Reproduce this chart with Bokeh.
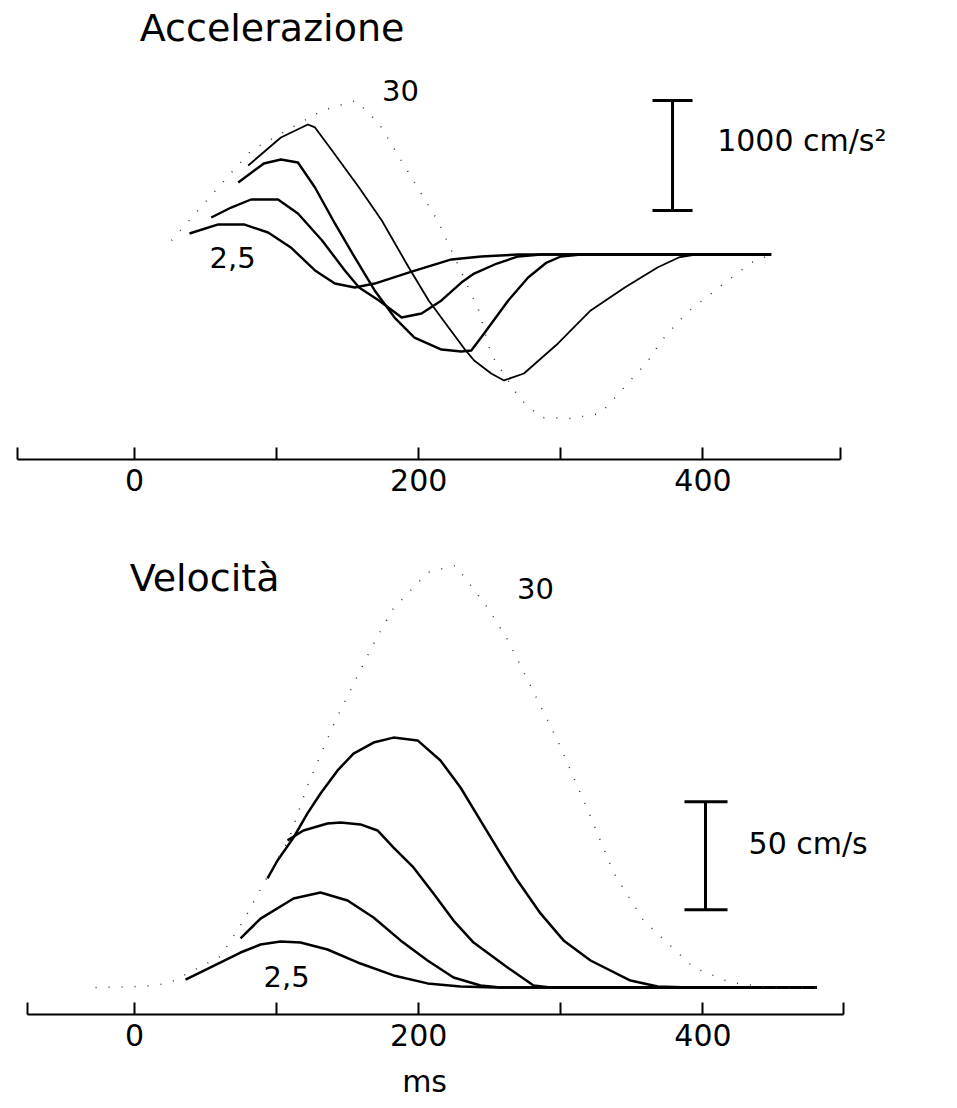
from bokeh.plotting import figure
from bokeh.models import Range1d, LinearAxis, FixedTicker
from bokeh.core.properties import value
from bokeh.embed import file_html
from bokeh.resources import INLINE

# ---------------- data ----------------
# Acceleration (cm/s^2) versus time (ms), one series per movement amplitude
acc_t_25 = [38.7, 59, 77, 94, 110, 127, 141, 155, 169, 195, 223, 244, 270, 448]
acc_25 = [191, 273, 273, 200, 64, -145, -264, -300, -264, -155, -45, -18, 0, 0]

acc_t_5 = [54, 68, 82, 101, 115, 132, 148, 158, 172, 188, 202, 216, 230, 239, 255, 270, 286, 448]
acc_5 = [336, 427, 500, 500, 373, 127, -145, -300, -418, -573, -536, -418, -255, -173, -82, -18, 0, 0]

acc_t_10 = [73, 91, 103, 115, 127, 141, 155, 169, 183, 197, 216, 230, 237, 246, 263, 277, 290, 300, 314, 448]
acc_10 = [655, 827, 864, 836, 609, 282, -27, -327, -573, -755, -864, -882, -873, -718, -418, -209, -73, -18, 0, 0]

acc_t_20 = [80, 103, 122, 127, 139, 158, 174, 193, 207, 221, 232, 239, 251, 260, 274, 298, 321, 345, 368, 383, 395, 448]
acc_20 = [809, 1064, 1182, 1155, 945, 609, 309, -118, -418, -664, -855, -964, -1082, -1145, -1082, -809, -509, -300, -118, -27, 0, 0]

acc_t_30 = [26, 82, 132, 156, 172, 214, 242, 251, 271, 286, 307, 328, 347, 361, 371, 388, 413, 434, 448]
acc_30 = [127, 945, 1309, 1400, 1191, 291, -500, -909, -1309, -1482, -1491, -1445, -1173, -973, -782, -536, -282, -73, 0]

# Velocity (cm/s) versus time (ms)
vel_t_25 = [35.9, 53.5, 74.6, 88.7, 102.7, 116.8, 135.8, 159.0, 182.3, 206.2, 229.4, 254.0, 480]
vel_25 = [3.7, 9.3, 16.2, 19.9, 21.3, 20.8, 17.6, 11.1, 5.6, 1.9, 0.5, 0, 0]

vel_t_5 = [74.6, 88.7, 111.9, 130.9, 149.9, 168.2, 187.2, 206.2, 224.5, 243.5, 257.6, 480]
vel_5 = [22.7, 31.9, 41.2, 44.0, 40.3, 32.4, 21.8, 12.5, 4.6, 0.9, 0, 0]

vel_t_10 = [107.7, 118.9, 135.8, 145.0, 159.0, 171.0, 182.3, 196.3, 210.4, 224.5, 238.6, 262.5, 280.8, 292.8, 480]
vel_10 = [68.1, 72.7, 75.9, 76.4, 75.5, 72.7, 64.8, 55.6, 43.5, 31.0, 20.8, 9.3, 0.9, 0, 0]

vel_t_20 = [93.6, 100.6, 111.9, 121.7, 130.9, 142.9, 154.1, 168.2, 182.3, 199.2, 215.3, 229.4,
            243.5, 257.6, 269.5, 285.7, 301.9, 320.9, 349.0, 368.1, 391.3, 480]
vel_20 = [50.5, 58.8, 69.4, 80.6, 89.8, 100.5, 108.3, 113.4, 115.7, 114.4, 105.1, 92.6,
          77.3, 62.0, 49.5, 34.3, 21.8, 12.5, 3.2, 0.5, 0, 0]

vel_t_30 = [-27.4, 6.3, 23.9, 60.5, 76.7, 90.8, 108.4, 121.7, 141.4, 167.5, 181.6, 206.2, 225.9,
            248.4, 262.5, 297.7, 320.9, 337.1, 358.2, 393.4, 419.4, 447.6, 480.6]
vel_30 = [0, 0.5, 1.9, 14.4, 31.0, 48.1, 68.1, 93.5, 123.6, 158.3, 175.0, 192.1, 195.4,
          175.9, 161.1, 114.4, 79.2, 53.2, 31.0, 9.3, 2.3, 0, 0]

tick_values = [0, 100, 200, 300, 400]
tick_labels = ["0", "", "200", "", "400"]
amp_small, amp_large = "2,5", "30"

# ---------------- figure ----------------
W, H = 950, 1100
FONT = value("DejaVu Sans")

p = figure(width=W, height=H, x_range=Range1d(-94.3, 574.2),
           y_range=Range1d(-7690.9, 2309.1),
           output_backend="svg", toolbar_location=None,
           x_axis_location=None, y_axis_location=None, min_border=0)
p.extra_y_ranges = {"vel": Range1d(-52.31, 456.94)}
p.grid.visible = False
p.outline_line_color = None
p.background_fill_color = "white"
p.border_fill_color = "white"


def make_axis(loc, lo, hi):
    ticks = [lo] + tick_values + [hi]
    overrides = {lo: "", hi: ""}
    for t, lab in zip(tick_values, tick_labels):
        overrides[t] = lab
    ax = LinearAxis(fixed_location=loc, bounds=(lo, hi),
                    ticker=FixedTicker(ticks=ticks),
                    major_label_overrides=overrides)
    ax.axis_line_width = 2
    ax.axis_line_color = "black"
    ax.major_tick_line_width = 2
    ax.major_tick_line_color = "black"
    ax.major_tick_in = 12
    ax.major_tick_out = 0
    ax.minor_tick_line_color = None
    ax.major_label_text_font = "DejaVu Sans"
    ax.major_label_text_font_size = "30px"
    ax.major_label_text_color = "black"
    ax.major_label_standoff = 10
    return ax


p.add_layout(make_axis(-1863.6, -82, 497), "below")
p.add_layout(make_axis(-6909.0, -75, 499), "below")

# acceleration curves
for t, a, w in [(acc_t_25, acc_25, 2.4), (acc_t_5, acc_5, 2.4),
                (acc_t_10, acc_10, 2.4), (acc_t_20, acc_20, 1.8)]:
    p.line(t, a, line_color="black", line_width=w, line_join="round")
p.line(acc_t_30, acc_30, line_color="#333333", line_width=1.5, line_dash="1 12")

# velocity curves
for t, v in [(vel_t_25, vel_25), (vel_t_5, vel_5), (vel_t_10, vel_10), (vel_t_20, vel_20)]:
    p.line(t, v, line_color="black", line_width=2.5, line_join="round", y_range_name="vel")
p.line(vel_t_30, vel_30, line_color="#333333", line_width=1.5, line_dash="1 12",
       y_range_name="vel")

# scale bars
p.segment(x0=[378.6, 364.5, 364.5], y0=[400, 400, 1400], x1=[378.6, 392.7, 392.7],
          y1=[1400, 400, 1400], line_color="black", line_width=3)
p.segment(x0=[401.8, 387.0, 387.0], y0=[36, 36, 86], x1=[401.8, 417.3, 417.3],
          y1=[86, 36, 86], line_color="black", line_width=3, y_range_name="vel")

# titles
p.text(x=[96.8], y=[2059], text=["Accelerazione"], text_font=FONT,
       text_font_size=value("38px"), text_align="center", text_baseline="middle",
       text_color="black")
p.text(x=[49.3], y=[189.4], text=["Velocità"], text_font=FONT,
       text_font_size=value("38px"), text_align="center", text_baseline="middle",
       text_color="black", y_range_name="vel")

# amplitude labels
p.text(x=[187.2, 69.0], y=[1491, -27], text=[amp_large, amp_small], text_font=FONT,
       text_font_size=value("29px"), text_align="center", text_baseline="middle",
       text_color="black")
p.text(x=[282.2, 107.0], y=[184.7, 5.1], text=[amp_large, amp_small], text_font=FONT,
       text_font_size=value("29px"), text_align="center", text_baseline="middle",
       text_color="black", y_range_name="vel")

# scale bar labels
p.text(x=[410.0], y=[1036], text=["1000 cm/s²"], text_font=FONT,
       text_font_size=value("30px"), text_align="left", text_baseline="middle",
       text_color="black")
p.text(x=[432.1], y=[66.7], text=["50 cm/s"], text_font=FONT,
       text_font_size=value("30px"), text_align="left", text_baseline="middle",
       text_color="black", y_range_name="vel")

# axis unit
p.text(x=[204.1], y=[-43.5], text=["ms"], text_font=FONT,
       text_font_size=value("30px"), text_align="center", text_baseline="middle",
       text_color="black", y_range_name="vel")

open("out.html", "w").write(file_html(p, INLINE))
